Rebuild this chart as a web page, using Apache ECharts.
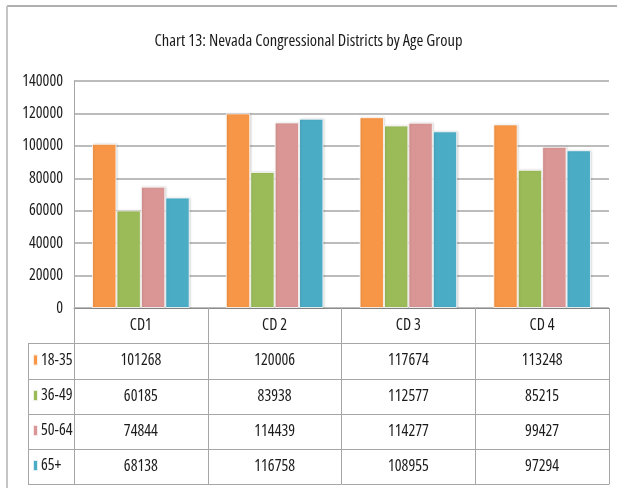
<!DOCTYPE html>
<html>
<head>
<meta charset="utf-8">
<script src="https://cdn.jsdelivr.net/npm/echarts@6/dist/echarts.min.js"></script>
<style>
html,body{margin:0;padding:0;background:#fff;}
#chart{width:617px;height:488px;}
</style>
</head>
<body>
<div id="chart"></div>
<script>
const title = 'Chart 13: Nevada Congressional Districts by Age Group';
const categories = ['CD1', 'CD 2', 'CD 3', 'CD 4'];
const seriesNames = ['18-35', '36-49', '50-64', '65+'];
const age18_35 = [101268, 120006, 117674, 113248];
const age36_49 = [60185, 83938, 112577, 85215];
const age50_64 = [74844, 114439, 114277, 99427];
const age65plus = [68138, 116758, 108955, 97294];
const yTicks = [0, 20000, 40000, 60000, 80000, 100000, 120000, 140000];

const seriesValues = [age18_35, age36_49, age50_64, age65plus];
const colors = ['#F79646', '#9BBB59', '#D99694', '#4BACC6'];

// Open Sans with font-stretch: condensed (passed via the font shorthand)
const FONT = '"Open Sans", "Liberation Sans", sans-serif';
const STRETCH = 'condensed';
const TXT = '#1b1b1b';
const LINE = '#a6a6a6';

const gridLeft = 74, gridRight = 8, gridTop = 81, axisY = 308;
const rowTops = [308, 343, 379, 414, 449, 484];
const legendLeft = 28;

const chart = echarts.init(document.getElementById('chart'), null, {renderer: 'canvas'});

const labelStyle = {fontFamily: FONT, fontWeight: STRETCH, fontSize: 16, color: TXT};

const xAxes = [];
xAxes.push({
  type: 'category', data: categories, position: 'bottom', gridIndex: 0, offset: 0,
  axisLine: {show: true, lineStyle: {color: '#8c8c8c', width: 1}},
  axisTick: {show: true, length: rowTops[1] - rowTops[0], lineStyle: {color: LINE}},
  axisLabel: Object.assign({margin: 9}, labelStyle)
});
seriesValues.forEach((vals, i) => {
  xAxes.push({
    type: 'category', data: vals.map(v => String(v)), position: 'bottom', gridIndex: 0,
    offset: rowTops[i + 1] - axisY,
    axisLine: {show: true, lineStyle: {color: LINE, width: 1}},
    axisTick: {show: true, length: rowTops[i + 2] - rowTops[i + 1], lineStyle: {color: LINE}},
    axisLabel: Object.assign({margin: 9, interval: 0}, labelStyle)
  });
});
xAxes.push({
  type: 'category', data: categories, position: 'bottom', gridIndex: 0,
  offset: rowTops[5] - axisY,
  axisLine: {show: true, lineStyle: {color: LINE, width: 1}},
  axisTick: {show: false}, axisLabel: {show: false}
});

const graphics = [
  {type: 'line', shape: {x1: 7, y1: 6, x2: 617, y2: 6}, style: {stroke: '#b0b0b0', lineWidth: 2}, silent: true},
  {type: 'line', shape: {x1: 7, y1: 6, x2: 7, y2: 488}, style: {stroke: '#c4c4c4', lineWidth: 2}, silent: true},
  {type: 'line', shape: {x1: legendLeft + 0.5, y1: rowTops[1], x2: legendLeft + 0.5, y2: rowTops[5]}, style: {stroke: LINE, lineWidth: 1}, silent: true}
];
for (let i = 1; i <= 5; i++) {
  graphics.push({type: 'line', shape: {x1: legendLeft, y1: rowTops[i] + 0.5, x2: gridLeft, y2: rowTops[i] + 0.5}, style: {stroke: LINE, lineWidth: 1}, silent: true});
}

const legends = seriesNames.map((name, i) => ({
  orient: 'vertical', left: 32, top: (rowTops[i + 1] + rowTops[i + 2]) / 2 - 9,
  data: [name], icon: 'rect', itemWidth: 5, itemHeight: 11, itemGap: 3, padding: 0,
  textStyle: {fontFamily: FONT, fontWeight: STRETCH, fontSize: 16, color: TXT, padding: [0, 0, 0, -2]},
  selectedMode: false
}));

const option = {
  backgroundColor: '#fff',
  animation: false,
  title: {
    text: title, left: 'center', top: 28,
    textStyle: {fontFamily: FONT, fontSize: 16.5, fontWeight: STRETCH, color: TXT}
  },
  legend: legends,
  grid: {left: gridLeft, right: gridRight, top: gridTop, bottom: 488 - axisY, containLabel: false},
  xAxis: xAxes,
  yAxis: {
    type: 'value', min: yTicks[0], max: yTicks[yTicks.length - 1], interval: yTicks[1] - yTicks[0],
    axisLine: {show: true, lineStyle: {color: LINE}},
    axisTick: {show: false},
    splitLine: {show: true, lineStyle: {color: LINE, width: 1.5}},
    axisLabel: Object.assign({margin: 11, formatter: v => String(v)}, labelStyle)
  },
  graphic: graphics,
  series: seriesNames.map((name, i) => ({
    name: name, type: 'bar', xAxisIndex: 0, data: seriesValues[i],
    barGap: '0%', barCategoryGap: '27%',
    itemStyle: {color: colors[i], borderColor: 'rgba(255,255,255,0.8)', borderWidth: 1,
      shadowColor: 'rgba(0,0,0,0.15)', shadowBlur: 2, shadowOffsetX: 1, shadowOffsetY: 0}
  }))
};
chart.setOption(option);
</script>
</body>
</html>
